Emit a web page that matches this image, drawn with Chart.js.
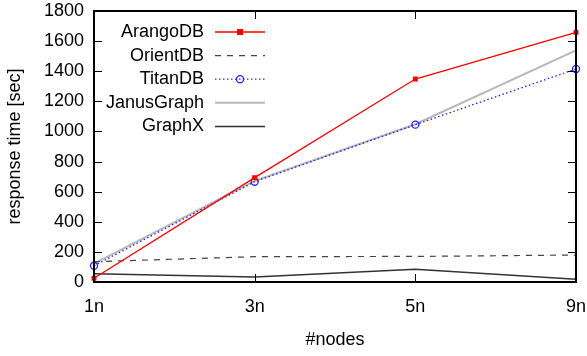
<!DOCTYPE html>
<html>
<head>
<meta charset="utf-8">
<script src="https://cdn.jsdelivr.net/npm/chart.js@4"></script>
<style>
  html, body { margin: 0; padding: 0; background: #fff; }
  #wrap { width: 587px; height: 356px; }
</style>
</head>
<body>
<div id="wrap"><canvas id="chart" width="587" height="356"></canvas></div>
<script>
// data
const nodes = ['1n', '3n', '5n', '9n'];
const arangoDB = [25, 693, 1348, 1658];
const orientDB = [135, 168, 170, 179];
const titanDB = [108, 666, 1045, 1415];
const janusGraph = [122, 672, 1048, 1539];
const graphX = [55, 33, 84, 18];
const yTicks = [0, 200, 400, 600, 800, 1000, 1200, 1400, 1600, 1800];

const FONT = '"Liberation Sans", Arial, sans-serif';
const FSIZE = 18;

// inward ticks on all four sides (gnuplot style)
const innerTicks = {
    id: 'innerTicks',
    afterDraw(chart) {
        const ctx = chart.ctx;
        const a = chart.chartArea;
        const x = chart.scales.x, y = chart.scales.y;
        ctx.save();
        ctx.strokeStyle = '#000';
        ctx.lineWidth = 1;
        yTicks.forEach(v => {
            const py = Math.round(y.getPixelForValue(v)) + 0.5;
            ctx.beginPath();
            ctx.moveTo(a.left, py); ctx.lineTo(a.left + 8, py);
            ctx.moveTo(a.right, py); ctx.lineTo(a.right - 8, py);
            ctx.stroke();
        });
        nodes.forEach((n, i) => {
            const px = Math.round(x.getPixelForValue(i)) + 0.5;
            ctx.beginPath();
            ctx.moveTo(px, a.bottom); ctx.lineTo(px, a.bottom - 8);
            ctx.moveTo(px, a.top); ctx.lineTo(px, a.top + 8);
            ctx.stroke();
        });
        ctx.lineWidth = 2;
        ctx.strokeRect(a.left, a.top, a.right - a.left, a.bottom - a.top);
        ctx.restore();
    }
};

// legend inside the plot: label right aligned, sample line to its right
const keyLegend = {
    id: 'keyLegend',
    afterDatasetsDraw(chart) {
        const ctx = chart.ctx;
        ctx.save();
        ctx.font = FSIZE + 'px ' + FONT;
        ctx.textAlign = 'right';
        ctx.textBaseline = 'middle';
        chart.data.datasets.forEach((ds, i) => {
            const ty = 32 + i * 23.6;
            ctx.fillStyle = '#000';
            ctx.fillText(ds.label, 204, ty);
            ctx.strokeStyle = ds.borderColor;
            ctx.lineWidth = ds.borderWidth;
            ctx.setLineDash(ds.borderDash || []);
            ctx.beginPath();
            ctx.moveTo(215, ty); ctx.lineTo(265, ty);
            ctx.stroke();
            ctx.setLineDash([]);
            if (ds.pointRadius > 0) {
                ctx.fillStyle = ds.pointBackgroundColor;
                ctx.strokeStyle = ds.pointBorderColor;
                ctx.lineWidth = ds.pointBorderWidth;
                if (ds.pointStyle === 'rect') {
                    ctx.fillRect(240 - 3, ty - 3, 6, 6);
                } else {
                    ctx.beginPath();
                    ctx.arc(240, ty, ds.pointRadius, 0, Math.PI * 2);
                    ctx.fill(); ctx.stroke();
                }
            }
        });
        ctx.restore();
    }
};

new Chart(document.getElementById('chart'), {
    type: 'line',
    data: {
        labels: nodes,
        datasets: [
            { label: 'ArangoDB', data: arangoDB, borderColor: '#ff0000', borderWidth: 1.3,
              pointStyle: 'rect', pointRadius: 3.5, pointBackgroundColor: '#ff0000',
              pointBorderColor: '#ff0000', pointBorderWidth: 0 },
            { label: 'OrientDB', data: orientDB, borderColor: '#444', borderWidth: 1.2,
              borderDash: [6, 6], pointRadius: 0 },
            { label: 'TitanDB', data: titanDB, borderColor: '#2020ff', borderWidth: 1.3,
              borderDash: [1.5, 2.5], pointStyle: 'circle', pointRadius: 3.5,
              pointBackgroundColor: 'rgba(255,255,255,0)', pointBorderColor: '#2020ff', pointBorderWidth: 1.3 },
            { label: 'JanusGraph', data: janusGraph, borderColor: '#b8b8b8', borderWidth: 2, pointRadius: 0 },
            { label: 'GraphX', data: graphX, borderColor: '#333', borderWidth: 1.5, pointRadius: 0 }
        ]
    },
    options: {
        responsive: false,
        animation: false,
        layout: { padding: { left: 4, right: 11, top: 11, bottom: 0 } },
        plugins: { legend: { display: false }, tooltip: { enabled: false } },
        scales: {
            x: {
                offset: false,
                grid: { display: false, drawTicks: false },
                border: { display: false },
                ticks: { color: '#000', font: { family: FONT, size: FSIZE }, padding: 14, maxRotation: 0 },
                title: { display: true, text: '#nodes', color: '#000', font: { family: FONT, size: FSIZE }, padding: { top: 4, bottom: 5 } },
                afterFit: s => { s.height = 74; s.paddingLeft = 0; s.paddingRight = 0; }
            },
            y: {
                min: 0, max: 1800,
                grid: { display: false, drawTicks: false },
                border: { display: false },
                afterBuildTicks: s => { s.ticks = yTicks.map(v => ({ value: v })); },
                ticks: { color: '#000', font: { family: FONT, size: FSIZE }, padding: 10, callback: v => String(v) },
                title: { display: true, text: 'response time [sec]', color: '#000', font: { family: FONT, size: FSIZE }, padding: 0 },
                afterFit: s => { s.width = 90; s.paddingTop = 0; s.paddingBottom = 0; }
            }
        }
    },
    plugins: [innerTicks, keyLegend]
});
</script>
</body>
</html>
